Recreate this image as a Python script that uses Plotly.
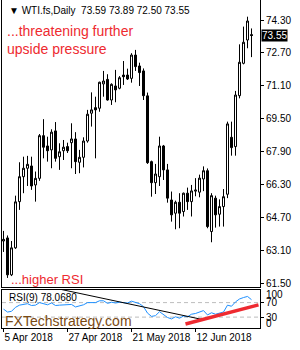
import plotly.graph_objects as go

# ---------------- data ----------------
idx = list(range(63))
opens = [63.58, 63.73, 61.94, 63.25, 65.49, 66.70, 67.11, 67.22, 66.30, 66.62,
         68.69, 68.19, 68.00, 68.92, 67.67, 67.96, 68.16, 68.35, 68.53, 67.40,
         67.64, 68.43, 69.78, 70.05, 70.02, 71.20, 71.42, 70.42, 71.10, 70.99,
         71.63, 71.63, 71.47, 72.60, 72.07, 71.83, 70.62, 67.43, 66.41, 66.70,
         68.19, 67.03, 65.57, 64.93, 65.46, 65.01, 65.90, 65.49, 66.00, 65.95,
         66.59, 66.99, 64.04, 65.66, 64.88, 65.25, 65.85, 68.61, 68.16, 70.63,
         72.20, 73.33, 73.59]
highs = [64.07, 63.85, 63.58, 65.78, 67.40, 67.67, 67.71, 67.67, 66.95, 68.77,
         69.49, 68.64, 69.00, 69.35, 68.32, 68.48, 68.35, 69.29, 68.86, 68.00,
         68.61, 69.94, 70.79, 70.58, 71.31, 71.83, 71.67, 71.23, 71.88, 71.58,
         72.31, 71.94, 72.69, 72.85, 72.23, 71.95, 70.78, 67.48, 67.32, 68.64,
         68.24, 67.32, 65.98, 65.54, 65.90, 65.93, 66.17, 66.30, 66.63, 66.80,
         67.20, 67.10, 65.90, 65.78, 65.60, 66.10, 69.37, 69.37, 70.86, 73.12,
         73.98, 74.46, 73.89]
lows = [63.05, 61.79, 61.88, 63.20, 65.09, 65.90, 66.25, 66.06, 65.49, 66.50,
        67.59, 67.43, 67.11, 67.43, 67.03, 67.51, 67.85, 67.11, 66.83, 66.87,
        67.15, 68.35, 69.13, 67.59, 69.85, 70.58, 70.39, 70.18, 70.31, 70.94,
        71.15, 71.39, 71.26, 71.83, 71.10, 70.42, 67.32, 65.73, 65.86, 66.25,
        66.54, 65.44, 64.52, 64.15, 64.20, 64.77, 65.09, 64.77, 65.75, 65.70,
        66.00, 64.20, 63.52, 64.23, 64.28, 64.28, 65.66, 67.72, 67.72, 70.50,
        72.15, 72.93, 72.50]
closes = [63.66, 61.94, 63.25, 65.48, 66.70, 67.11, 67.30, 66.25, 66.62, 68.69,
          68.13, 67.96, 68.86, 67.59, 67.91, 68.13, 67.96, 68.53, 67.43, 67.64,
          68.43, 69.73, 69.94, 69.94, 71.28, 71.34, 70.42, 71.18, 70.91, 71.50,
          71.55, 71.44, 72.60, 72.04, 71.75, 70.63, 67.38, 66.41, 66.83, 68.19,
          67.03, 65.66, 64.85, 65.46, 64.93, 65.90, 65.49, 66.01, 66.05, 66.63,
          66.99, 64.28, 65.78, 64.85, 65.25, 65.73, 69.26, 68.11, 70.66, 72.25,
          73.22, 74.25, 73.55]
rsi = [52, 44, 46, 57, 63, 66, 67, 62, 63, 70,
       66, 64, 69, 62, 63, 64, 63, 65, 58, 60,
       64, 70, 70, 70, 75, 75, 68, 71, 69, 71,
       70, 69, 74, 70, 67, 59, 41, 32, 34, 45,
       37, 29, 25, 31, 27, 33, 31, 38, 40, 45,
       48, 36, 42, 38, 41, 44, 63, 60, 72, 80,
       84, 87, 78.068]

date_tick_idx = [0, 16, 32, 48]
date_tick_labels = ["5 Apr 2018", "27 Apr 2018", "21 May 2018", "12 Jun 2018"]
price_ticks = [61.50, 63.10, 64.70, 66.30, 67.90, 69.50, 71.10, 72.70, 74.30]
rsi_levels = [30, 70]
rsi_edge_labels = [100, 0]

black_trend_x = [13, 50]
black_trend_y = [109.6, 22.7]
red_trend_x = [45.5, 63.75]
red_trend_y = [11, 63.8]

FONT = "Liberation Sans"
RED = "#EE2A30"

fig = go.Figure()
fig.add_trace(go.Candlestick(
    x=idx, open=opens, high=highs, low=lows, close=closes,
    xaxis="x", yaxis="y", whiskerwidth=0,
    increasing=dict(line=dict(color="black", width=1), fillcolor="white"),
    decreasing=dict(line=dict(color="black", width=1), fillcolor="black"),
    hoverinfo="skip", showlegend=False))
fig.add_trace(go.Scatter(x=idx, y=rsi, xaxis="x2", yaxis="y2", mode="lines",
                         line=dict(color="#1E90FF", width=1), hoverinfo="skip"))
fig.add_trace(go.Scatter(x=black_trend_x, y=black_trend_y, xaxis="x2", yaxis="y2",
                         mode="lines", line=dict(color="black", width=1), hoverinfo="skip"))
fig.add_trace(go.Scatter(x=red_trend_x, y=red_trend_y, xaxis="x2", yaxis="y2",
                         mode="lines", line=dict(color=RED, width=3.5), hoverinfo="skip"))

for lv in rsi_levels:
    fig.add_shape(type="line", xref="x2 domain", x0=0, x1=1, yref="y2", y0=lv, y1=lv,
                  line=dict(color="#BDBDBD", width=1, dash="4px,3px"), layer="below")

xr = [-0.375, 64.125]
common = dict(showgrid=False, zeroline=False, linecolor="black", linewidth=1,
              tickcolor="black", fixedrange=True, automargin=False)
fig.update_layout(
    width=300, height=350,
    margin=dict(l=2, r=40, t=0, b=22, pad=0),
    paper_bgcolor="white", plot_bgcolor="white",
    showlegend=False,
    boxgap=0.5, boxgroupgap=0,
    font=dict(family=FONT, size=10, color="black"),
    xaxis=dict(domain=[0, 1], range=xr, anchor="y", showticklabels=False, ticks="",
               showline=True, rangeslider=dict(visible=False), **common),
    yaxis=dict(domain=[0.125, 1], range=[61.35, 75.27], side="right", anchor="x",
               tickvals=price_ticks, ticktext=[f"{v:.2f}" for v in price_ticks],
               ticks="outside", ticklen=3, showline=True, mirror=True, **common),
    xaxis2=dict(domain=[0, 1], range=xr, anchor="y2", tickvals=date_tick_idx,
                ticktext=date_tick_labels, ticks="outside", ticklen=3, tickangle=0,
                ticklabelposition="outside right", showline=True, mirror=True, **common),
    yaxis2=dict(domain=[0, 0.1159], range=[0, 104.8], side="right", anchor="x2",
                tickvals=rsi_levels, ticktext=[str(v) for v in rsi_levels],
                ticks="outside", ticklen=3, showline=True, mirror=True, **common),
)

ann = []
ann.append(dict(xref="paper", yref="paper", x=0.019, y=0.9695, xanchor="left", yanchor="middle",
                text=f"▼ WTI.fs,Daily  {opens[-1]:.2f} {highs[-1]:.2f} {lows[-1]:.2f} {closes[-1]:.2f}",
                showarrow=False, font=dict(size=10, color="black")))
ann.append(dict(xref="paper", yref="paper", x=0.0116, y=0.935, xanchor="left", yanchor="top",
                align="left", text="...threatening further<br>upside pressure",
                showarrow=False, font=dict(size=14, color=RED)))
ann.append(dict(xref="paper", yref="paper", x=0.027, y=0.149, xanchor="left", yanchor="middle",
                text="...higher RSI", showarrow=False, font=dict(size=13, color=RED)))
ann.append(dict(xref="paper", yref="paper", x=0.004, y=0.022, xanchor="left", yanchor="middle",
                text="FXTechstrategy.com", showarrow=False, font=dict(size=14, color="#7A4A12")))
ann.append(dict(xref="paper", yref="paper", x=0.019, y=0.0915, xanchor="left", yanchor="middle",
                text=f"RSI(9) {rsi[-1]:.4f}", showarrow=False, font=dict(size=10, color="black")))
ann.append(dict(xref="paper", yref="y", x=1, y=closes[-1], xanchor="left", yanchor="middle",
                xshift=1, text=f"{closes[-1]:.2f}", showarrow=False, bgcolor="black",
                borderpad=0, font=dict(size=10, color="white")))
for v, ys in zip(rsi_edge_labels, [-3, 5]):
    ann.append(dict(xref="paper", yref="y2", x=1, y=v, xanchor="left", yanchor="middle",
                    xshift=4, yshift=ys, text=str(v), showarrow=False,
                    font=dict(size=10, color="black")))
fig.update_layout(annotations=ann)

fig.write_html("out.html")
